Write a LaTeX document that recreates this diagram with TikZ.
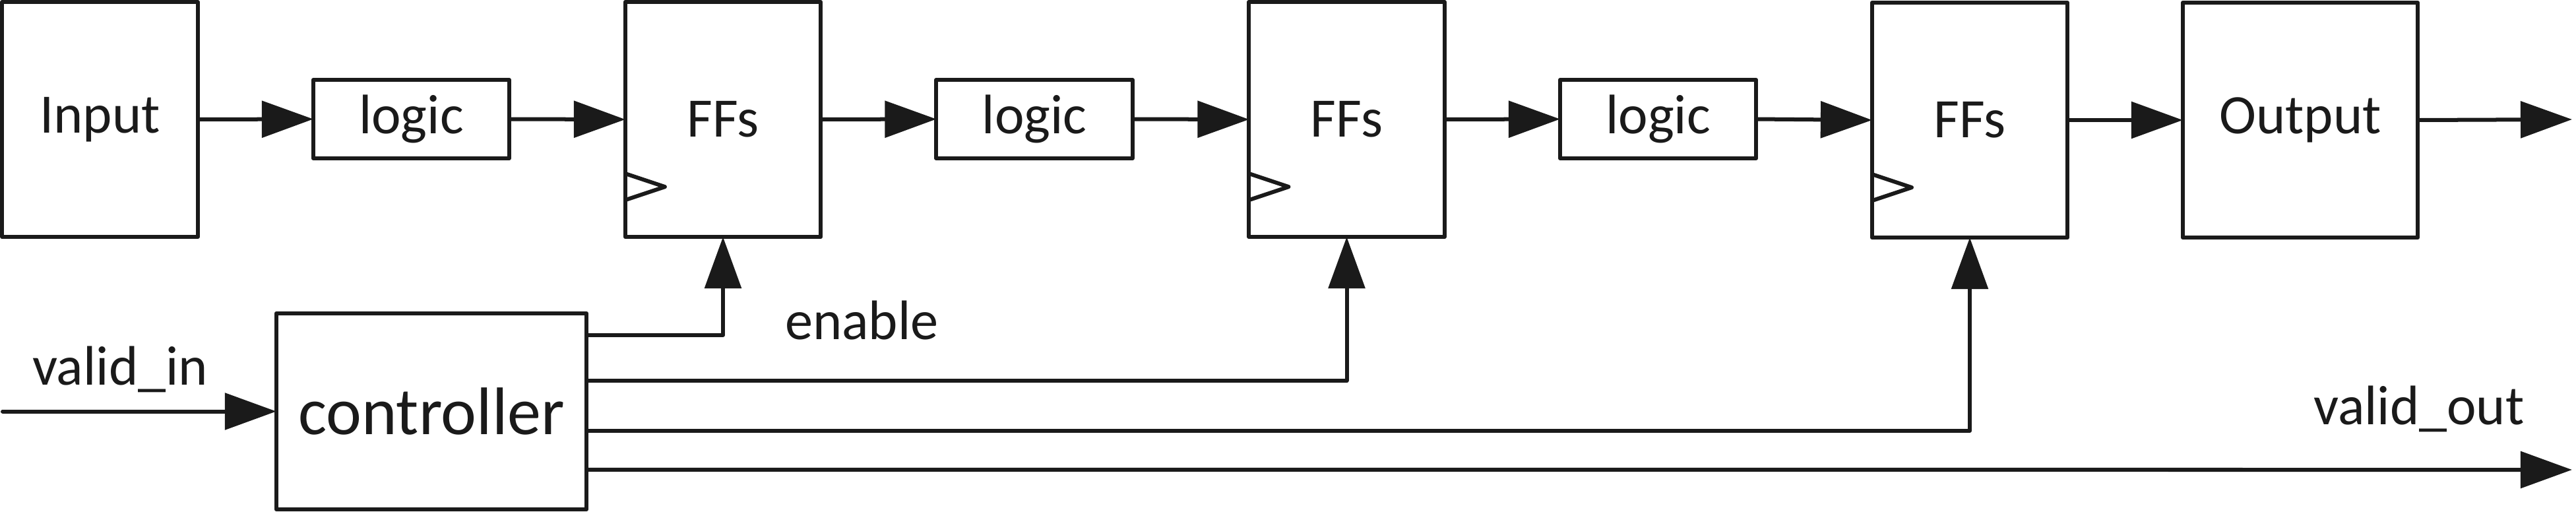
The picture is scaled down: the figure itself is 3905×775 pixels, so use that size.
\documentclass[tikz,border=0pt]{standalone}
\usepackage{fontspec}
\setmainfont{Carlito}
\usetikzlibrary{arrows.meta,calc}
\definecolor{ink}{HTML}{1A1A1A}
\begin{document}
\begin{tikzpicture}[x=0.01cm,y=-0.01cm,
  line width=0.06cm, line join=round, draw=ink,
  blk/.style={draw=ink, line width=0.06cm, inner sep=0pt, outer sep=0pt,
    font=\fontsize{24}{28}\selectfont, text=ink},
  tall/.style={blk, minimum width=2.96cm, minimum height=3.56cm},
  lgc/.style={blk, minimum width=2.97cm, minimum height=1.19cm},
  arr/.style={draw=ink, line width=0.06cm, -{Triangle[length=0.78cm,width=0.55cm]}},
  lbl/.style={inner sep=0pt, font=\fontsize{24}{28}\selectfont, text=ink}]
\useasboundingbox (0,0) rectangle (3905,775);
% top row
\node[tall] (inp) at (151.5,181) {Input};
\node[lgc]  (l1)  at (623.5,180.5) {logic};
\node[tall] (f1)  at (1096,181) {FFs};
\node[lgc]  (l2)  at (1568,180.5) {logic};
\node[tall] (f2)  at (2041.5,181) {FFs};
\node[lgc]  (l3)  at (2513.5,180.5) {logic};
\node[tall] (f3)  at (2986,182) {FFs};
\node[tall, minimum width=3.56cm] (out) at (3487,182) {Output};
% controller
\node[blk, minimum width=4.70cm, minimum height=2.97cm,
      font=\fontsize{29}{34}\selectfont] (ctrl) at (654,623.5) {controller};
% clock symbols
\foreach \f in {f1,f2,f3}{
  \draw (\f.south west) ++(0,-96) -- ++(60,20) -- ++(-60,20);
}
% data path
\draw[arr] (inp.east) -- (l1.west);
\draw[arr] (l1.east) -- (f1.west);
\draw[arr] (f1.east) -- (l2.west);
\draw[arr] (l2.east) -- (f2.west);
\draw[arr] (f2.east) -- (l3.west);
\draw[arr] (l3.east) -- (f3.west);
\draw[arr] (f3.east) -- (out.west);
\coordinate (oend) at (3899,181);
\draw[arr] (out.east) -- (oend);
% control
\coordinate (vin) at (4,623.5);
\draw[arr, line cap=round] (vin) -- (ctrl.west);
\draw[arr] ($(ctrl.north east)+(0,33)$) -| (f1.south);
\draw[arr] ($(ctrl.north east)+(0,102)$) -| (f2.south);
\draw[arr] ($(ctrl.north east)+(0,178)$) -| (f3.south);
\coordinate (vout) at (3899,712);
\draw[arr] ($(ctrl.north east)+(0,237)$) -- (vout);
% labels
\node[lbl, anchor=base west] (lvin) at (46,583) {valid\_in};
\node[lbl, anchor=base west] (len) at (1187,514) {enable};
\node[lbl, anchor=base west] (lvout) at (3504,643) {valid\_out};
\end{tikzpicture}
\end{document}
